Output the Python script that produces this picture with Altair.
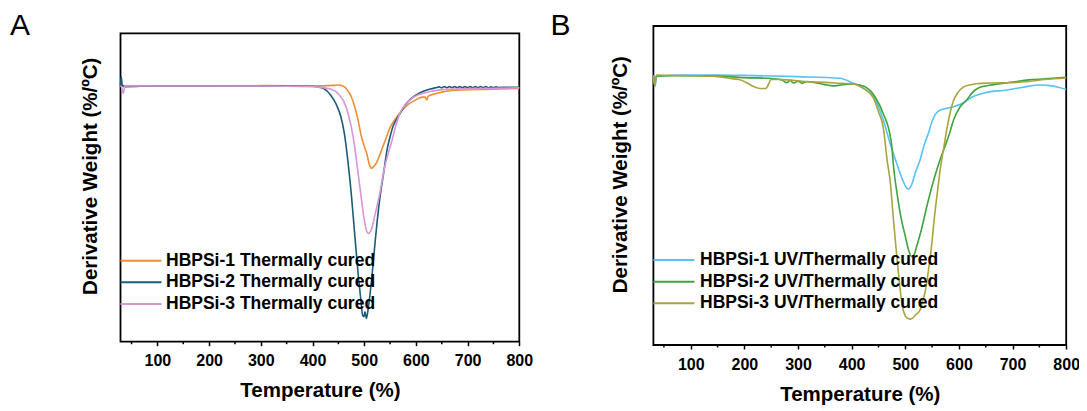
import altair as alt
import pandas as pd

FONT = "Liberation Sans"

# ---------------- data ----------------
names_a = ["HBPSi-1 Thermally cured", "HBPSi-2 Thermally cured", "HBPSi-3 Thermally cured"]
names_b = ["HBPSi-1 UV/Thermally cured", "HBPSi-2 UV/Thermally cured", "HBPSi-3 UV/Thermally cured"]
colors_a = ["#F28C33", "#1C5C78", "#D896D8"]
colors_b = ["#56C2F5", "#3FA33F", "#A9A53C"]
panel_labels = ["A", "B"]
x_title = "Temperature (%)"
y_title = "Derivative Weight (%/\u00baC)"
major_ticks = [100, 200, 300, 400, 500, 600, 700, 800]
minor_ticks = [50, 150, 250, 350, 450, 550, 650, 750]
x_domain_a = [28.6, 800]
x_domain_b = [30.4, 800]
y_domain_a = [-8.292, 1.708]
y_domain_b = [-8.412, 1.588]

A1_T = [28.6, 33, 40, 100, 200, 300, 400, 440, 450, 455, 462, 468, 475, 482, 488, 494, 500, 505, 510, 514,
        518, 525, 532, 541, 550, 560, 569, 585, 600, 612, 618, 621, 624, 635, 650, 680, 730, 800]
A1_v = [0.0, 0.02, 0.0, 0.0, 0.0, 0.01, 0.0, 0.02, 0.03, 0.02, -0.03, -0.15, -0.35, -0.7, -1.1, -1.6, -1.95, -2.2, -2.55, -2.67,
        -2.62, -2.45, -2.15, -1.75, -1.35, -1.08, -0.88, -0.6, -0.45, -0.36, -0.36, -0.45, -0.33, -0.26, -0.2, -0.14, -0.11, -0.08]

A2_T = [28.6, 30, 32, 36, 100, 200, 300, 400, 410, 421.6, 434.9, 444.9, 454.9, 461.6, 468.2, 474.9, 481.5, 488.2, 493.5, 496.9,
        499.5, 501.5, 504.2, 508.2, 514.9, 521.5, 528.2, 538.2, 545, 548.5, 556, 562, 569, 580, 590, 608, 628, 640, 645, 650,
        655, 660, 665, 670, 675, 680, 685, 690, 695, 700, 705, 710, 715, 720, 725, 730, 735, 740, 745, 750,
        755, 760, 780, 800]
A2_v = [0.0, 0.3, 0.02, -0.02, 0.0, 0.0, 0.0, -0.01, -0.03, -0.08, -0.29, -0.56, -1.0, -1.54, -2.4, -3.48, -4.78, -6.08, -6.94, -7.43,
        -7.48, -7.32, -7.54, -7.16, -6.18, -4.99, -3.91, -2.75, -2.0, -1.75, -1.3, -1.1, -0.9, -0.6, -0.42, -0.22, -0.1, -0.05, -0.03, -0.06,
        -0.02, -0.06, -0.02, -0.06, -0.02, -0.06, -0.02, -0.06, -0.02, -0.06, -0.02, -0.06, -0.02, -0.06, -0.02, -0.06, -0.02, -0.06, -0.03, -0.05,
        -0.03, -0.05, -0.04, -0.04]

A3_T = [28.6, 31, 34, 37, 100, 200, 300, 400, 434.9, 451.6, 464.9, 474.9, 481.5, 488.2, 494.9, 500.2, 504.9, 508.2, 513.5, 521.5,
        530, 540, 548, 554, 561, 569, 580, 595, 628, 661, 728, 800]
A3_v = [0.0, -0.05, -0.24, 0.0, 0.0, 0.0, 0.0, -0.02, -0.1, -0.29, -0.67, -1.32, -1.97, -2.83, -3.7, -4.35, -4.72, -4.78, -4.67, -4.13,
        -3.5, -2.6, -2.1, -1.75, -1.3, -0.88, -0.6, -0.37, -0.18, -0.11, -0.08, -0.06]

B1_T = [30.4, 33.5, 36, 80, 150, 200, 300, 378, 403, 424, 440.5, 459, 471.6, 484, 496.4, 501, 505.8, 512, 520, 527.6,
        535, 543, 550, 555.5, 558.6, 565, 575, 590, 605, 626, 650, 689, 720, 751, 770, 785, 800]
B1_v = [0.02, -0.31, 0.0, 0.05, 0.05, 0.04, 0.0, -0.05, -0.21, -0.38, -0.63, -1.36, -2.09, -2.72, -3.29, -3.45, -3.53, -3.38, -2.95, -2.61,
        -2.15, -1.78, -1.4, -1.2, -1.13, -1.05, -1.0, -0.94, -0.85, -0.63, -0.5, -0.42, -0.33, -0.26, -0.28, -0.33, -0.40]

B2_T = [30.4, 33, 36, 60, 100, 150, 200, 241.6, 270, 279, 285, 292, 300, 308, 316, 330, 350, 365.7, 380, 403,
        424, 443.5, 460, 470, 475, 478, 485, 493, 500, 506, 512, 516, 521, 530, 540, 552, 565, 577, 583, 590,
        602, 614.5, 625, 639, 665, 700, 730, 760, 800]
B2_v = [0.05, -0.2, 0.02, 0.03, 0.03, 0.02, -0.03, -0.05, -0.1, -0.19, -0.12, -0.2, -0.14, -0.21, -0.15, -0.18, -0.25, -0.29, -0.26, -0.23,
        -0.31, -0.63, -1.2, -1.7, -2.2, -2.8, -3.7, -4.5, -5.0, -5.43, -5.64, -5.6, -5.33, -4.8, -4.08, -3.3, -2.6, -2.05, -1.75, -1.36,
        -0.95, -0.73, -0.5, -0.33, -0.25, -0.17, -0.1, -0.07, -0.02]

B3_T = [30.4, 33, 36, 60, 100, 150, 180, 192, 205, 217, 229, 240, 246, 250, 280, 316, 350, 381, 403, 420,
        440, 450, 459, 462, 466, 472, 478, 484, 490, 494, 500, 505, 510, 515, 520, 524, 528, 532, 537, 543,
        549, 555, 560, 566, 572, 578, 584, 590, 598, 608, 620, 632, 660, 697, 730, 760, 800]
B3_v = [0.05, -0.3, 0.05, 0.04, 0.03, 0.0, -0.07, -0.1, -0.2, -0.31, -0.37, -0.37, -0.2, -0.08, -0.1, -0.16, -0.18, -0.21, -0.23, -0.35,
        -0.65, -1.1, -1.6, -2.0, -2.6, -3.3, -4.5, -5.6, -6.6, -7.15, -7.5, -7.58, -7.6, -7.55, -7.45, -7.4, -7.3, -7.05, -6.75, -6.1,
        -5.3, -4.3, -3.6, -2.8, -2.2, -1.6, -1.1, -0.75, -0.5, -0.33, -0.26, -0.22, -0.2, -0.19, -0.15, -0.09, -0.04]


def long_df(names, series):
    rows = []
    for name, (ts, vs) in zip(names, series):
        assert len(ts) == len(vs), name
        for t, v in zip(ts, vs):
            rows.append({"series": name, "T": t, "v": v})
    return pd.DataFrame(rows)


df_a = long_df(names_a, [(A1_T, A1_v), (A2_T, A2_v), (A3_T, A3_v)])
df_b = long_df(names_b, [(B1_T, B1_v), (B2_T, B2_v), (B3_T, B3_v)])

color_scale = alt.Scale(domain=names_a + names_b, range=colors_a + colors_b)

# ---------------- layout (pixels inside the drawing, page offset 8) ----------------
CW, CH = 1071, 403


def panel(df, xdom, ydom, xrange, yrange, ytitle_pad, ytitle_y):
    xs = alt.Scale(domain=xdom, range=xrange, nice=False, zero=False)
    ys = alt.Scale(domain=ydom, range=yrange, nice=False, zero=False)
    xax = alt.Axis(orient="bottom", offset=yrange[0] - CH, values=major_ticks, title=x_title,
                   grid=False, domain=False, ticks=True, tickSize=4, tickWidth=1.5,
                   tickColor="black", labelFont=FONT, labelFontSize=16, labelFontWeight="bold",
                   labelColor="black", labelPadding=7, labelFlush=False, labelOverlap=False,
                   titleFont=FONT, titleFontSize=20.5, titleFontWeight="bold",
                   titleColor="black", titlePadding=12)
    yax = alt.Axis(orient="left", offset=-xrange[0], title=y_title, labels=False, ticks=False,
                   domain=False, grid=False, titleFont=FONT, titleFontSize=20.5,
                   titleFontWeight="bold", titleColor="black", titlePadding=ytitle_pad,
                   titleY=ytitle_y)
    frame_df = pd.DataFrame({"x1": [xdom[0]], "x2": [xdom[1]], "y1": [ydom[0]], "y2": [ydom[1]]})
    frame = alt.Chart(frame_df).mark_rect(fillOpacity=0, stroke="black", strokeWidth=1.8).encode(
        x=alt.X("x1:Q", scale=xs, axis=xax), x2="x2:Q",
        y=alt.Y("y1:Q", scale=ys, axis=yax), y2="y2:Q")
    lines = alt.Chart(df).mark_line(strokeWidth=1.6, interpolate="monotone").encode(
        x=alt.X("T:Q", scale=xs, axis=xax),
        y=alt.Y("v:Q", scale=ys, axis=yax),
        color=alt.Color("series:N", scale=color_scale, legend=None),
    )
    minor = alt.Chart(pd.DataFrame({"T": minor_ticks})).mark_rule(
        color="black", strokeWidth=1.5).encode(
        x=alt.X("T:Q", scale=xs, axis=xax), y=alt.value(yrange[0]), y2=alt.value(yrange[0] + 2.5))
    return alt.layer(frame, lines, minor)


def legend(names, rows, x0, length, text_x):
    leg_df = pd.DataFrame({"series": names})
    leg_y = alt.Y("series:N", scale=alt.Scale(type="point", domain=names, range=rows, padding=0),
                  axis=None)
    rules = alt.Chart(leg_df).mark_rule(strokeWidth=2).encode(
        x=alt.value(x0), x2=alt.value(x0 + length), y=leg_y,
        color=alt.Color("series:N", scale=color_scale, legend=None))
    texts = alt.Chart(leg_df).mark_text(
        align="left", baseline="middle", font=FONT, fontSize=17.5, fontWeight="bold",
        color="black").encode(x=alt.value(text_x), y=leg_y, text="series:N")
    return [rules, texts]


def letter(label, x, y):
    return alt.Chart(pd.DataFrame({"label": [label]})).mark_text(
        align="left", baseline="alphabetic", font=FONT, fontSize=30, color="black").encode(
        x=alt.value(x), y=alt.value(y), text="label:N")


panel_a = panel(df_a, x_domain_a, y_domain_a, [112.5, 511.3], [333.7, 25.3], 20, 167.8)
panel_b = panel(df_b, x_domain_b, y_domain_b, [645.4, 1058.2], [337.0, 18.0], 23, 166.2)

layers = [panel_a, panel_b]
layers += legend(names_a, [252.7, 296.0], 112.5, 41, 158)
layers += legend(names_b, [252.0, 295.3], 645.4, 41, 692)
layers += [letter(panel_labels[0], 2, 27), letter(panel_labels[1], 542.5, 27)]

chart = alt.layer(*layers).resolve_scale(x="independent", y="independent").properties(
    width=CW, height=CH, autosize=alt.AutoSizeParams(type="none"), padding=0,
    background="white").configure_view(stroke="transparent")

chart.save("out.html", embed_options={"renderer": "svg", "actions": False})
